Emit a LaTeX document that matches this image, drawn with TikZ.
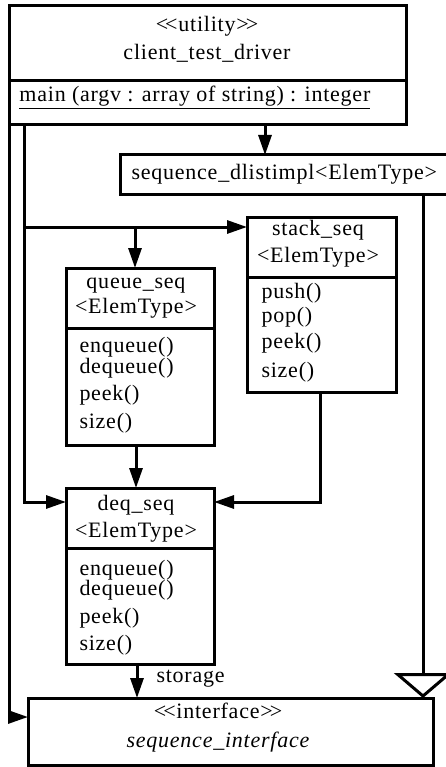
\documentclass[tikz,border=0pt]{standalone}
\usepackage{fontspec}
\setmainfont{Liberation Serif}[LetterSpace=3.5]
\usetikzlibrary{arrows.meta}
\newcommand{\dlt}{\textless\kern-3pt\textless}
\newcommand{\dgt}{\textgreater\kern-3pt\textgreater}
\begin{document}
\begin{tikzpicture}[x=1pt,y=-1pt,line width=3pt,line join=miter,
  box/.style={draw,line width=3pt,rectangle,inner sep=0pt,outer sep=0pt,anchor=north west},
  txt/.style={inner sep=0pt,font=\fontsize{22}{26}\selectfont},
  arr/.style={-{Triangle[length=20pt,width=13pt]}},
  inh/.style={-{Triangle[open,length=25pt,width=58pt,fill=white]}}]
\useasboundingbox (0,0) rectangle (446,767);
% boxes
\node[box,minimum width=397pt,minimum height=119pt] (client) at (9,6) {};
\node[box,minimum width=335pt,minimum height=40pt] (dl) at (120,155) {};
\node[box,minimum width=149pt,minimum height=175pt] (stack) at (247,217) {};
\node[box,minimum width=148pt,minimum height=177pt] (queue) at (66,268) {};
\node[box,minimum width=148pt,minimum height=176pt] (deq) at (66,488) {};
\node[box,minimum width=405pt,minimum height=67pt] (iface) at (28,698) {};
% dividers
\coordinate (d1) at (0,81);
\coordinate (d2) at (0,277);
\coordinate (d3) at (0,328);
\coordinate (d4) at (0,548);
\draw (client.west |- d1) -- (client.east |- d1);
\draw (stack.west |- d2) -- (stack.east |- d2);
\draw (queue.west |- d3) -- (queue.east |- d3);
\draw (deq.west |- d4) -- (deq.east |- d4);
% texts
\node[txt,anchor=base] (t1) at (207,32) {\dlt utility\dgt};
\node[txt,anchor=base] (t2) at (207,60) {client\_test\_driver};
\node[txt,anchor=base west] (t3) at (18,102) {\underline{main (argv : array of string) : integer}};
\node[txt,anchor=base west] (t4) at (130,180) {sequence\_dlistimpl\textless ElemType\textgreater};
\node[txt,anchor=base] (s1) at (318,235) {stack\_seq};
\node[txt,anchor=base] (s2) at (318,262) {\textless ElemType\textgreater};
\node[txt,anchor=base west] (s3) at (260,298) {push()};
\node[txt,anchor=base west] (s4) at (260,322) {pop()};
\node[txt,anchor=base west] (s5) at (260,348) {peek()};
\node[txt,anchor=base west] (s6) at (260,377) {size()};
\node[txt,anchor=base] (q1) at (136,288) {queue\_seq};
\node[txt,anchor=base] (q2) at (136,313) {\textless ElemType\textgreater};
\node[txt,anchor=base west] (q3) at (78,352) {enqueue()};
\node[txt,anchor=base west] (q4) at (78,373) {dequeue()};
\node[txt,anchor=base west] (q5) at (78,400) {peek()};
\node[txt,anchor=base west] (q6) at (78,428) {size()};
\node[txt,anchor=base] (e1) at (136,510) {deq\_seq};
\node[txt,anchor=base] (e2) at (136,537) {\textless ElemType\textgreater};
\node[txt,anchor=base west] (e3) at (78,575) {enqueue()};
\node[txt,anchor=base west] (e4) at (78,595) {dequeue()};
\node[txt,anchor=base west] (e5) at (78,623) {peek()};
\node[txt,anchor=base west] (e6) at (78,650) {size()};
\node[txt,anchor=base] (i1) at (218,718) {\dlt interface\dgt};
\node[txt,anchor=base] (i2) at (218,747) {\itshape sequence\_interface};
\node[txt,anchor=base west] (st) at (155,682) {storage};
% connectors
\coordinate (xA) at (265,0);
\draw[arr] (client.south -| xA) -- (dl.north -| xA);
\coordinate (yB) at (0,717);
\draw[arr] (client.south west) -- (client.south west |- yB) -- (iface.west |- yB);
\coordinate (xC) at (24,0);
\coordinate (yC) at (0,227);
\coordinate (yD) at (0,502);
\draw[arr] (client.south -| xC) -- (xC |- yD) -- (deq.west |- yD);
\draw[arr] (xC |- yC) -- (stack.west |- yC);
\coordinate (xE) at (135,0);
\draw[arr] (xE |- yC) -- (queue.north -| xE);
\coordinate (xF) at (136,0);
\draw[arr] (queue.south -| xF) -- (deq.north -| xF);
\coordinate (xG) at (320,0);
\draw[arr] (stack.south -| xG) -- (xG |- yD) -- (deq.east |- yD);
\coordinate (xH) at (137,0);
\draw[arr] (deq.south -| xH) -- (iface.north -| xH);
\coordinate (xI) at (423,0);
\draw[inh] (dl.south -| xI) -- (iface.north -| xI);
\end{tikzpicture}
\end{document}
